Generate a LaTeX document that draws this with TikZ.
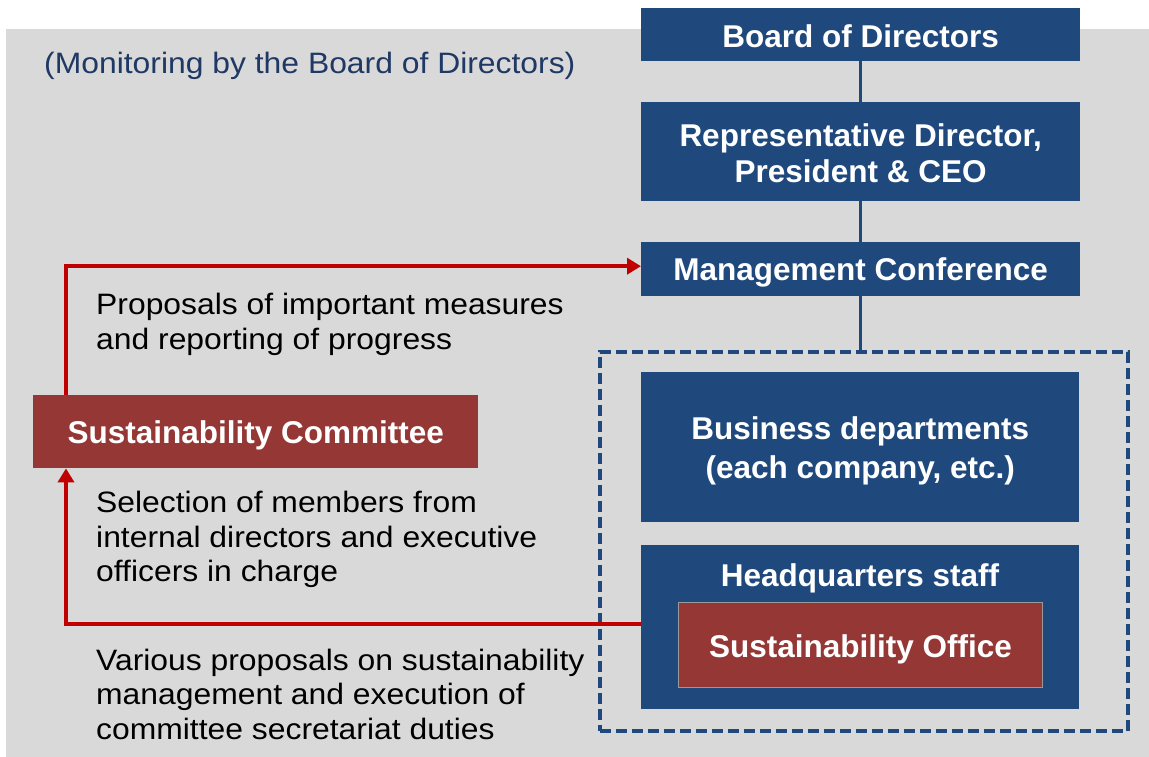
\documentclass[tikz,border=0pt]{standalone}
\usepackage{fontspec}
\setmainfont{Liberation Sans}
\newfontfamily\stretchfont[FakeStretch=1.08]{Liberation Sans}
\usetikzlibrary{arrows.meta}
\definecolor{bggray}{HTML}{D9D9D9}
\definecolor{boxblue}{HTML}{1F497D}
\definecolor{boxred}{HTML}{953735}
\definecolor{arrowred}{HTML}{C00000}
\definecolor{titleblue}{HTML}{1F3864}
\tikzset{
  bluebox/.style={fill=boxblue, draw=none, inner sep=0pt, anchor=north west},
  redbox/.style={fill=boxred, inner sep=0pt, anchor=north west},
  boxtext/.style={inner sep=0pt, text=white, align=center,
    font=\fontsize{31.5}{36}\selectfont\bfseries},
  plaintext/.style={inner sep=0pt, anchor=west, align=left, text=black,
    font=\stretchfont\fontsize{29.5}{34.5}\selectfont},
  blueline/.style={draw=boxblue, line width=3.5pt},
  redline/.style={draw=arrowred, line width=3.5pt},
  redarrow/.style={redline, -{Triangle[length=14pt,width=16pt]}},
  dashframe/.style={draw=boxblue, line width=3.5pt, dash pattern=on 11pt off 5pt, inner sep=0pt, anchor=north west},
}
\begin{document}
\begin{tikzpicture}[x=1pt,y=-1pt]
\useasboundingbox (0,0) rectangle (1149,757);
\fill[bggray] (6,29) rectangle (1149,757);

\node[inner sep=0pt, anchor=west, text=titleblue, font=\stretchfont\fontsize{29.5}{34.5}\selectfont] (title) at (44,66) {(Monitoring by the Board of Directors)};

\node[dashframe, minimum width=528pt, minimum height=379pt] (frame) at (598,350) {};

\node[bluebox, minimum width=439pt, minimum height=53pt] (board) at (641,8) {};
\node[bluebox, minimum width=439pt, minimum height=99pt] (rep) at (641,102) {};
\node[bluebox, minimum width=439pt, minimum height=54pt] (mgmt) at (641,242) {};
\node[bluebox, minimum width=438pt, minimum height=150pt] (biz) at (641,372) {};
\node[bluebox, minimum width=438pt, minimum height=164pt] (hq) at (641,545) {};
\node[redbox, draw=gray!80, line width=1pt, minimum width=364pt, minimum height=85pt] (office) at (678,602) {};
\node[redbox, minimum width=445pt, minimum height=73pt] (comm) at (33,395) {};

\node[boxtext] (boardt) at ([yshift=-2pt]board.center) {Board of Directors};
\node[boxtext] (rept) at ([yshift=-2pt]rep.center) {Representative Director,\\President \& CEO};
\node[boxtext] (mgmtt) at ([yshift=-3pt]mgmt.center) {Management Conference};
\node[boxtext, font=\fontsize{31.5}{39}\selectfont\bfseries] (bizt) at ([yshift=-4pt]biz.center) {Business departments\\(each company, etc.)};
\node[boxtext] (hqlabel) at (860,578) {Headquarters staff};
\node[boxtext] (officet) at ([yshift=-4pt]office.center) {Sustainability Office};
\node[boxtext] (commt) at ([yshift=-4pt]comm.center) {Sustainability Committee};

\draw[blueline] (board) -- (rep);
\draw[blueline] (rep) -- (mgmt);
\draw[blueline] (mgmt.south) -- (mgmt.south |- frame.north);

\coordinate (lx) at (66,0);
\draw[redarrow] (comm.north -| lx) |- ([yshift=3pt]mgmt.west);
\draw[redarrow] ([yshift=3pt]hq.west) -| (comm.south -| lx);

\node[plaintext] (t1) at (96,324.5) {Proposals of important measures\\and reporting of progress};
\node[plaintext] (t2) at (96,539.5) {Selection of members from\\internal directors and executive\\officers in charge};
\node[plaintext] (t3) at (96,694) {Various proposals on sustainability\\management and execution of\\committee secretariat duties};
\end{tikzpicture}
\end{document}
